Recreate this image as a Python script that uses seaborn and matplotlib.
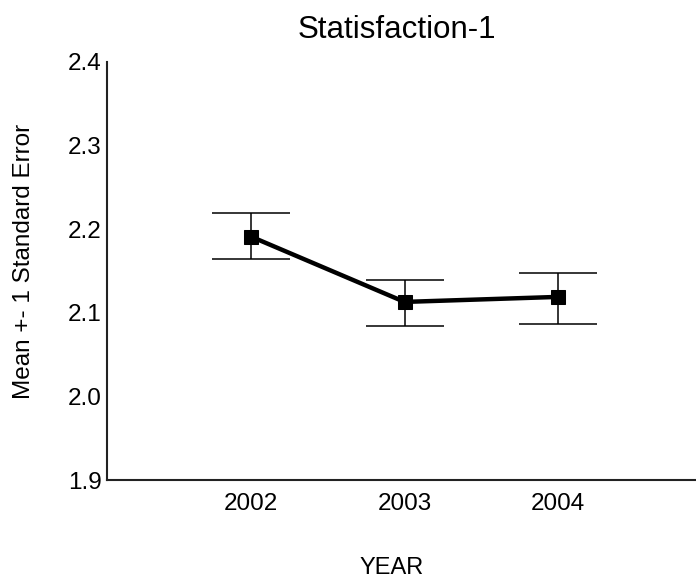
import matplotlib
matplotlib.use("Agg")
import matplotlib.pyplot as plt
import seaborn as sns
import pandas as pd

# Survey results by year: mean score and +/- 1 standard error bounds
years = [2002, 2003, 2004]
means = [2.191, 2.113, 2.119]
upper = [2.219, 2.139, 2.148]
lower = [2.164, 2.084, 2.087]
yticks = [1.9, 2.0, 2.1, 2.2, 2.3, 2.4]

sns.set_theme(style="white")
plt.rcParams["font.family"] = ["Liberation Sans", "DejaVu Sans"]

df = pd.DataFrame({"YEAR": years, "mean": means, "upper": upper, "lower": lower})

fig = plt.figure(figsize=(6.96, 5.84), dpi=100)
ax = fig.add_axes([0.1537, 0.178, 0.8463, 0.716])

# error bars: vertical stems with wide caps
err_lo = [m - l for m, l in zip(df["mean"], df["lower"])]
err_hi = [u - m for m, u in zip(df["mean"], df["upper"])]
ax.errorbar(df["YEAR"], df["mean"], yerr=[err_lo, err_hi], fmt="none",
            ecolor="black", elinewidth=1.1, capsize=28, capthick=1.1, zorder=2)

sns.lineplot(data=df, x="YEAR", y="mean", ax=ax, color="black", linewidth=3.2,
             marker="s", markersize=10, markeredgecolor="black",
             markerfacecolor="black", zorder=3)

ax.set_xlim(2001.06, 2004.9)
ax.set_ylim(1.9, 2.4)
ax.set_xticks(years)
ax.set_xticklabels([str(y) for y in years])
ax.set_yticks(yticks)
ax.set_yticklabels([f"{v:.1f}" for v in yticks])

for s in ["top", "right"]:
    ax.spines[s].set_visible(False)
for s in ["left", "bottom"]:
    ax.spines[s].set_color("#222222")
    ax.spines[s].set_linewidth(1.5)

ax.tick_params(axis="both", which="major", length=3, width=2.5, color="black",
               direction="out", labelsize=17.5, pad=1, labelcolor="black")
ax.tick_params(axis="x", pad=6)

title = ax.set_title("Statisfaction-1", fontsize=22.5, color="black", pad=17)
title.set_x(0.493)
ax.set_xlabel("YEAR", fontsize=17, color="black")
ax.set_ylabel("Mean +- 1 Standard Error", fontsize=17.5, color="black")
ax.xaxis.set_label_coords(0.484, -0.185)
ax.yaxis.set_label_coords(-0.123, 0.522)
ax.grid(False)

fig.savefig("out.png", dpi=100, facecolor="white")
